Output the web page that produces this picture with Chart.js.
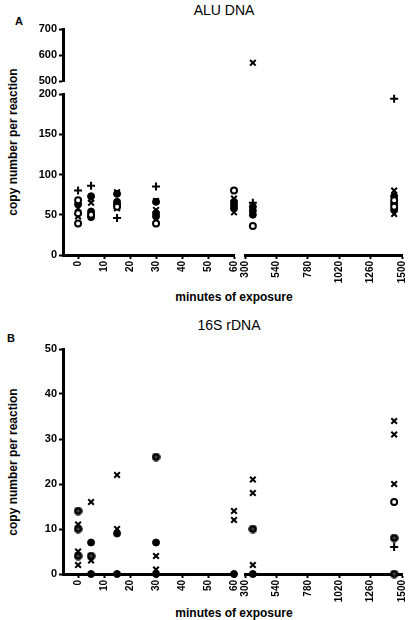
<!DOCTYPE html>
<html>
<head>
<meta charset="utf-8">
<script src="https://cdn.jsdelivr.net/npm/chart.js@4.4.1/dist/chart.umd.min.js"></script>
<style>
  body { margin: 0; background: #fff; }
  #page { position: relative; width: 410px; height: 620px; overflow: hidden;
    font-family: 'Liberation Sans', Arial, sans-serif; color: #000; }
  #page canvas { position: absolute; }
  .txt { position: absolute; white-space: nowrap; transform: translate(-50%, -50%); }
  .title { font-size: 14px; }
  .axis { font-size: 12px; font-weight: bold; }
  .panel { font-size: 11px; font-weight: bold; }
  .vert { transform: translate(-50%, -50%) rotate(-90deg); }
</style>
</head>
<body>
<div id="page">
  <div class="txt panel" style="left:19px;top:21px">A</div>
  <div class="txt title" style="left:224px;top:10px">ALU DNA</div>
  <div class="txt axis vert" style="left:13px;top:142px">copy number per reaction</div>
  <div class="txt axis" style="left:234px;top:297px">minutes of exposure</div>

  <div class="txt panel" style="left:11px;top:338px">B</div>
  <div class="txt title" style="left:229px;top:325px">16S rDNA</div>
  <div class="txt axis vert" style="left:13px;top:462px">copy number per reaction</div>
  <div class="txt axis" style="left:234px;top:613px">minutes of exposure</div>
</div>
<script>
// DATA

const minutesEarly = [0, 10, 20, 30, 40, 50, 60];
const minutesLate = [300, 540, 780, 1020, 1260, 1500];
const aluTicksLow = [0, 50, 100, 150, 200];
const aluTicksHigh = [500, 600, 700];
const rdnaTicks = [0, 10, 20, 30, 40, 50];

// [minutes, copies]
const aluPlus = [[0, 80], [5, 86], [15, 46], [30, 85], [360, 65], [1440, 194]];
const aluCross = [
  [0, 58], [0, 48], [5, 70], [5, 65], [15, 78], [15, 58], [30, 67], [30, 56],
  [60, 70], [60, 53], [360, 570], [1440, 80], [1440, 51],
];
const aluOpen = [
  [0, 68], [0, 52], [0, 39], [5, 50], [15, 60], [30, 39], [60, 80],
  [360, 36], [1440, 68], [1440, 60],
];
const aluFilled = [
  [0, 63], [5, 73], [5, 54], [5, 47], [15, 76], [15, 66], [15, 63],
  [30, 66], [30, 52], [30, 48], [60, 66], [60, 62], [60, 58],
  [360, 60], [360, 55], [360, 50], [1440, 73], [1440, 64], [1440, 56],
];

const rdnaCross = [
  [0, 11], [0, 5], [0, 2], [5, 16], [5, 3], [15, 22], [15, 10], [30, 4], [30, 1],
  [60, 14], [60, 12], [360, 21], [360, 18], [360, 2], [1440, 34], [1440, 31], [1440, 20],
];
const rdnaPlus = [[30, 0], [1440, 6]];
const rdnaOpen = [[1440, 16]];
const rdnaFilled = [[5, 7], [5, 0], [15, 9], [15, 0], [30, 7], [30, 0], [60, 0], [360, 0]];
const rdnaDotted = [[0, 14], [0, 10], [0, 4], [5, 4], [30, 26], [360, 10], [1440, 8], [1440, 0]];

// STYLE

const FONT = "'Liberation Sans', Arial, sans-serif";

const dotted = document.createElement('canvas');
dotted.width = dotted.height = 9;
const g = dotted.getContext('2d');
g.fillStyle = '#000';
g.beginPath();
g.arc(4.5, 4.5, 4.3, 0, Math.PI * 2);
g.fill();
g.strokeStyle = '#555';
g.lineWidth = 1;
g.beginPath();
g.moveTo(4.5, 2.5); g.lineTo(4.5, 6.5);
g.moveTo(2.5, 4.5); g.lineTo(6.5, 4.5);
g.stroke();

const looks = {
  plus: { pointStyle: 'cross', pointRadius: 4, pointBorderWidth: 2, pointBackgroundColor: '#000' },
  cross: { pointStyle: 'crossRot', pointRadius: 4, pointBorderWidth: 2, pointBackgroundColor: '#000' },
  open: { pointStyle: 'circle', pointRadius: 3, pointBorderWidth: 2, pointBackgroundColor: '#fff' },
  filled: { pointStyle: 'circle', pointRadius: 3.5, pointBorderWidth: 1, pointBackgroundColor: '#000' },
  dotted: { pointStyle: dotted, pointRadius: 4.5, pointBorderWidth: 0, pointBackgroundColor: '#000' },
};

const aluSeries = [
  [aluOpen, 'open'], [aluFilled, 'filled'], [aluCross, 'cross'], [aluPlus, 'plus'],
];
const rdnaSeries = [
  [rdnaOpen, 'open'], [rdnaFilled, 'filled'], [rdnaDotted, 'dotted'],
  [rdnaCross, 'cross'], [rdnaPlus, 'plus'],
];

// CHARTS

const page = document.querySelector('#page');

const scale = (range, ticks, show, horizontal) => ({
  type: 'linear',
  position: horizontal ? 'bottom' : 'left',
  display: show,
  min: range[0],
  max: range[1],
  afterBuildTicks: (s) => {
    s.ticks = ticks.map((v) => ({ value: v }));
  },
  afterFit: (s) => {
    if (!show) return;
    if (horizontal) {
      s.height = 34;
      s.paddingLeft = s.paddingRight = 0;
    } else {
      s.width = 40;
      s.paddingTop = s.paddingBottom = 0;
    }
  },
  border: { display: true, color: '#000', width: 3 },
  grid: {
    display: true,
    drawOnChartArea: false,
    drawTicks: true,
    tickLength: 4,
    tickWidth: 2,
    tickColor: '#000',
  },
  ticks: {
    color: '#000',
    autoSkip: false,
    padding: 2,
    font: { family: FONT, size: horizontal ? 10 : 11, weight: 'bold' },
    minRotation: horizontal ? 90 : 0,
    maxRotation: horizontal ? 90 : 0,
    callback: (v) => String(v),
  },
});

const makeChart = ({ area, showX, showY, xRange, xTicks, yRange, yTicks, series }) => {
  const left = area.left - (showY ? 40 : 6);
  const top = area.top - 6;
  const width = area.right + 8 - left;
  const height = area.bottom + (showX ? 34 : 6) - top;

  const canvas = document.createElement('canvas');
  canvas.width = width;
  canvas.height = height;
  canvas.style.left = left + 'px';
  canvas.style.top = top + 'px';
  page.appendChild(canvas);

  const inRange = ([t, v]) =>
    t >= Math.max(xRange[0], 0) && t <= xRange[1] && v >= yRange[0] && v <= yRange[1];

  new Chart(canvas, {
    type: 'scatter',
    data: {
      datasets: series.map(([pairs, look]) => ({
        data: pairs.filter(inRange).map(([t, v]) => ({ x: t, y: v })),
        borderColor: '#000',
        clip: false,
        ...looks[look],
      })),
    },
    options: {
      responsive: false,
      animation: false,
      layout: {
        padding: { left: showY ? 0 : 6, top: 6, right: 8, bottom: showX ? 0 : 6 },
      },
      plugins: { legend: false, tooltip: { enabled: false } },
      scales: {
        x: scale(xRange, xTicks, showX, true),
        y: scale(yRange, yTicks, showY, false),
      },
    },
  });
};

const early = { left: 63, right: 234, range: [-5.8, 60], ticks: minutesEarly };
const late = { left: 245, right: 402, range: [300, 1500], ticks: minutesLate };

const rows = [
  { top: 29, bottom: 81, range: [500, 700], ticks: aluTicksHigh, showX: false, series: aluSeries },
  { top: 94, bottom: 255, range: [0, 200], ticks: aluTicksLow, showX: true, series: aluSeries },
  { top: 349, bottom: 574, range: [0, 50], ticks: rdnaTicks, showX: true, series: rdnaSeries },
];

rows.forEach((row) => {
  [early, late].forEach((col) => {
    makeChart({
      area: { left: col.left, right: col.right, top: row.top, bottom: row.bottom },
      showX: row.showX,
      showY: col === early,
      xRange: col.range,
      xTicks: col.ticks,
      yRange: row.range,
      yTicks: row.ticks,
      series: row.series,
    });
  });
});
</script>
</body>
</html>
